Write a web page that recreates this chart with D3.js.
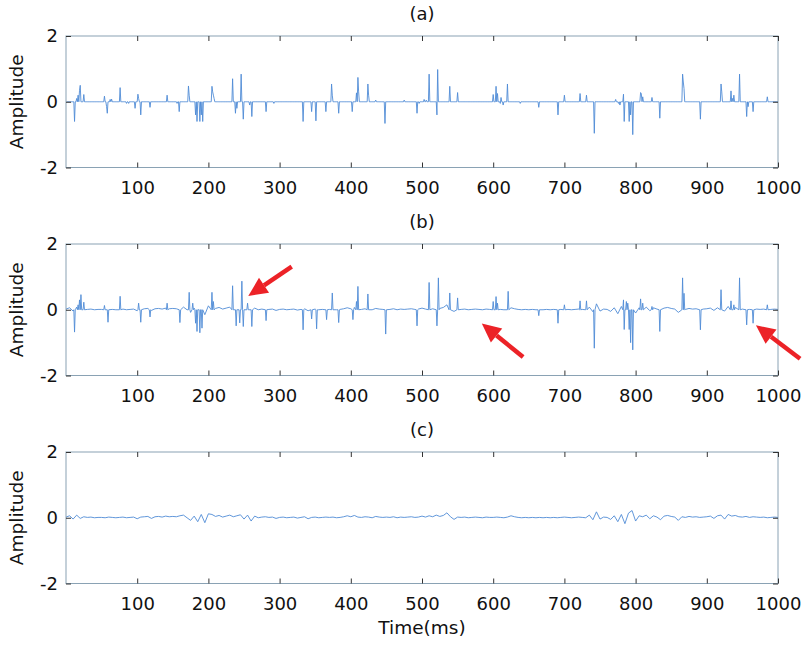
<!DOCTYPE html>
<html>
<head>
<meta charset="utf-8">
<script src="https://cdn.jsdelivr.net/npm/d3@7"></script>
<style>
  body { margin: 0; background: #fff; }
  svg text { font-family: "DejaVu Sans", sans-serif; fill: #111; }
</style>
</head>
<body>
<script>
// labels and ticks
const panelTitles = ["(a)", "(b)", "(c)"];
const xTicks = [100, 200, 300, 400, 500, 600, 700, 800, 900, 1000];
const yTicks = [-2, 0, 2];

// (a) clean spike train: time (ms) and amplitude, zero between spikes
const spikeTimeA = [12, 15, 17, 19, 20, 25, 54, 57, 58, 62, 64, 76, 85, 88, 97, 101, 102, 105, 118, 142,
  156, 159, 172, 173, 182, 184, 188, 190, 192, 205, 206, 207, 208, 234, 238, 240, 246, 249, 258, 261,
  281, 292, 333, 345, 351, 365, 373, 374, 383, 402, 408, 410, 411, 424, 425, 435, 448, 475, 493, 496,
  503, 506, 510, 521, 522, 539, 550, 600, 604, 606, 610, 611, 614, 620, 638, 664, 691, 700, 722, 731,
  742, 772, 776, 778, 783, 784, 791, 793, 796, 807, 808, 810, 823, 834, 866, 867, 868, 891, 920, 921,
  934, 936, 938, 946, 956, 958, 965, 985];
const spikeAmpA = [-0.6, 0.1, 0.2, 0.35, 0.5, 0.22, 0.17, -0.15, -0.35, 0.07, 0.08, 0.43, -0.05, -0.05, -0.2, 0.23, 0.1, -0.4, -0.17, 0.2,
  -0.05, -0.3, 0.48, 0.2, -0.4, -0.6, -0.6, -0.4, -0.6, 0.47, 0.3, 0.2, 0.1, 0.7, -0.35, -0.2, 0.84, -0.53, -0.1, -0.45,
  -0.3, -0.05, -0.6, -0.3, -0.58, -0.3, 0.54, 0.2, -0.35, -0.3, 0.27, 0.74, 0.3, 0.54, 0.2, 0.05, -0.66, 0.05, -0.35, -0.05,
  0.07, 0.05, 0.84, -0.4, 0.98, 0.47, 0.28, 0.22, 0.47, 0.25, -0.05, 0.13, -0.1, 0.54, -0.05, -0.17, -0.4, 0.2, 0.25, 0.2,
  -0.96, 0.07, -0.05, -0.1, 0.23, -0.6, -0.6, -0.4, -1.0, 0.28, 0.25, 0.15, 0.13, -0.5, 0.84, 0.6, 0.4, -0.53, 0.54, 0.3,
  0.33, 0.1, 0.2, 0.84, -0.45, -0.15, -0.3, 0.15];

// (b) noisy signal: spikes on top of the background wiggle
const spikeTimeB = [12, 17, 19, 21, 25, 54, 59, 76, 102, 105, 118, 142, 160, 173, 178, 182, 184, 188, 191, 205,
  207, 234, 239, 244, 247, 249, 255, 261, 281, 333, 345, 352, 366, 374, 383, 403, 408, 410, 424, 449,
  493, 510, 521, 523, 539, 550, 600, 604, 606, 621, 664, 691, 700, 722, 731, 742, 783, 784, 787, 789,
  791, 793, 796, 807, 810, 823, 834, 866, 868, 891, 920, 934, 938, 946, 956, 965, 985];
const spikeAmpB = [-0.68, 0.15, 0.3, 0.46, 0.23, 0.13, -0.38, 0.41, 0.2, -0.38, -0.22, 0.2, -0.39, 0.53, 0.2, -0.41, -0.66, -0.7, -0.56, 0.53,
  0.25, 0.73, -0.49, -0.4, 0.87, -0.51, 0.2, -0.51, -0.33, -0.61, -0.28, -0.58, -0.3, 0.51, -0.39, -0.3, 0.25, 0.71, 0.48, -0.74,
  -0.49, 0.83, -0.49, 0.97, 0.51, 0.36, 0.25, 0.4, 0.2, 0.56, -0.18, -0.41, 0.15, 0.27, 0.27, -1.17, 0.3, -0.6, 0.25, 0.2,
  -0.6, -1.0, -1.22, 0.33, 0.2, 0.1, -0.66, 0.97, 0.5, -0.61, 0.61, 0.27, 0.15, 0.97, -0.46, -0.41, 0.15];

const noiseStep = 5;
const noiseAmp = [
  0.02, 0.06, -0.04, 0.08, -0.02, 0.03, 0.01, 0.02, 0.00, 0.01,
  0.01, 0.00, 0.02, 0.01, 0.00, 0.01, 0.02, 0.00, 0.01, 0.02,
  -0.03, 0.02, 0.03, 0.04, -0.02, 0.03, 0.04, 0.02, 0.05, 0.03,
  0.04, 0.03, 0.06, 0.08, 0.00, -0.08, 0.05, -0.12, 0.10, -0.15,
  0.12, 0.10, 0.04, 0.07, 0.02, 0.05, 0.08, 0.03, 0.06, 0.09,
  -0.04, 0.08, -0.10, 0.05, 0.00, 0.02, 0.03, 0.01, 0.02, -0.02,
  0.01, 0.02, 0.00, 0.01, 0.02, -0.01, 0.01, 0.03, -0.03, 0.01,
  0.02, 0.00, 0.01, 0.02, 0.01, 0.02, 0.00, 0.01, 0.03, 0.06,
  0.03, 0.07, 0.02, 0.01, 0.03, 0.02, 0.00, 0.04, 0.02, 0.01,
  0.02, 0.01, 0.03, 0.00, 0.02, 0.01, 0.02, 0.03, 0.01, 0.02,
  0.05, 0.02, 0.06, 0.03, 0.08, 0.04, 0.07, 0.15, 0.03, -0.05,
  0.02, 0.01, 0.02, 0.00, 0.01, 0.02, 0.01, 0.00, 0.02, 0.01,
  0.01, 0.02, 0.01, 0.00, 0.02, 0.06, 0.03, 0.01, 0.00, 0.01,
  0.00, 0.01, 0.00, 0.01, 0.00, 0.01, 0.00, 0.01, 0.00, 0.01,
  0.02, 0.01, 0.00, 0.01, 0.02, 0.01, 0.00, 0.08, -0.06, 0.18,
  -0.04, 0.02, 0.01, -0.05, 0.06, -0.12, 0.10, -0.18, 0.14, 0.22,
  -0.10, 0.06, 0.03, 0.08, -0.03, 0.06, 0.02, -0.06, 0.05, 0.07,
  0.04, 0.02, -0.08, 0.03, 0.01, 0.04, 0.02, 0.03, 0.01, 0.02,
  0.03, 0.05, -0.02, 0.06, 0.08, -0.04, 0.10, 0.05, 0.07, 0.03,
  0.02, 0.04, 0.01, 0.03, 0.02, 0.01, 0.02, 0.00, 0.01, 0.02,
  0.01];

// red arrows on (b): tail and tip as [time, amplitude]
const arrowTails = [[317, 1.31], [642, -1.44], [1031, -1.49]];
const arrowTips = [[256, 0.42], [584, -0.42], [969, -0.47]];

const width = 805, height = 645;
const left = 66, right = 778;
const panelTops = [36, 244, 452];
const panelH = 131.5;

const svg = d3.select("body").append("svg")
  .attr("width", width).attr("height", height);

const x = d3.scaleLinear().domain([0, 1000]).range([left, right]);

// build the three series
const mapA = new Map(spikeTimeA.map((t, i) => [t, spikeAmpA[i]]));
const seriesA = d3.range(1, 1001).map(t => [t, mapA.has(t) ? mapA.get(t) : 0]);

const seriesC = noiseAmp.map((v, i) => [i * noiseStep, v]);

const mapB = new Map(spikeTimeB.map((t, i) => [t, spikeAmpB[i]]));
let seriesB = seriesC.filter(p => !spikeTimeB.some(t => Math.abs(t - p[0]) < 2));
for (const [t, v] of mapB) {
  seriesB.push([t, v]);
  for (const n of [t - 1, t + 1]) {
    if (!mapB.has(n) && !seriesB.some(p => p[0] === n)) seriesB.push([n, 0]);
  }
}
seriesB.sort((a, b) => a[0] - b[0]);

const allSeries = [seriesA, seriesB, seriesC];
const fmt = d => String(d);  // plain hyphen for negatives

panelTops.forEach((top, k) => {
  const bottom = top + panelH;
  const y = d3.scaleLinear().domain([-2, 2]).range([bottom, top]);
  const g = svg.append("g");

  // signal
  g.append("path")
    .datum(allSeries[k])
    .attr("fill", "none")
    .attr("stroke", "#4f8bd6")
    .attr("stroke-width", 0.9)
    .attr("d", d3.line().x(d => x(d[0])).y(d => y(d[1])));

  // box
  g.append("rect")
    .attr("x", left).attr("y", top)
    .attr("width", right - left).attr("height", bottom - top)
    .attr("fill", "none").attr("stroke", "#8aa2b4").attr("stroke-width", 1);

  // axes with inward ticks
  const xb = g.append("g").attr("transform", `translate(0,${bottom})`)
    .call(d3.axisBottom(x).tickValues(xTicks).tickFormat(fmt).tickSizeInner(-5).tickSizeOuter(0).tickPadding(14));
  const xt = g.append("g").attr("transform", `translate(0,${top})`)
    .call(d3.axisTop(x).tickValues(xTicks).tickSizeInner(-5).tickSizeOuter(0).tickFormat(""));
  const yl = g.append("g").attr("transform", `translate(${left},0)`)
    .call(d3.axisLeft(y).tickValues(yTicks).tickFormat(fmt).tickSizeInner(-5).tickSizeOuter(0).tickPadding(8));
  const yr = g.append("g").attr("transform", `translate(${right},0)`)
    .call(d3.axisRight(y).tickValues(yTicks).tickSizeInner(-5).tickSizeOuter(0).tickFormat(""));
  [xb, xt, yl, yr].forEach(a => {
    a.select(".domain").remove();
    a.selectAll(".tick line").attr("stroke", "#333");
    a.selectAll("text").style("font-size", "18px").attr("fill", "#111");
  });

  // title
  g.append("text")
    .attr("x", (left + right) / 2).attr("y", top - 16)
    .attr("text-anchor", "middle").style("font-size", "18px")
    .text(panelTitles[k]);

  // y label
  g.append("text")
    .attr("transform", `translate(23,${(top + bottom) / 2}) rotate(-90)`)
    .attr("text-anchor", "middle").style("font-size", "18.5px")
    .text("Amplitude");

  // arrows on (b)
  if (k === 1) {
    arrowTips.forEach((tip, i) => {
      const x0 = x(arrowTails[i][0]), y0 = y(arrowTails[i][1]);
      const x1 = x(tip[0]), y1 = y(tip[1]);
      const ang = Math.atan2(y1 - y0, x1 - x0);
      const headLen = 19, headW = 9;
      const bx = x1 - headLen * Math.cos(ang), by = y1 - headLen * Math.sin(ang);
      g.append("line")
        .attr("x1", x0).attr("y1", y0).attr("x2", bx).attr("y2", by)
        .attr("stroke", "#ec2227").attr("stroke-width", 4.5);
      const px = -Math.sin(ang) * headW, py = Math.cos(ang) * headW;
      g.append("path")
        .attr("d", `M${x1},${y1}L${bx + px},${by + py}L${bx - px},${by - py}Z`)
        .attr("fill", "#ec2227");
    });
  }
});

svg.append("text")
  .attr("x", (left + right) / 2).attr("y", 634)
  .attr("text-anchor", "middle").style("font-size", "18.5px")
  .text("Time(ms)");
</script>
</body>
</html>
